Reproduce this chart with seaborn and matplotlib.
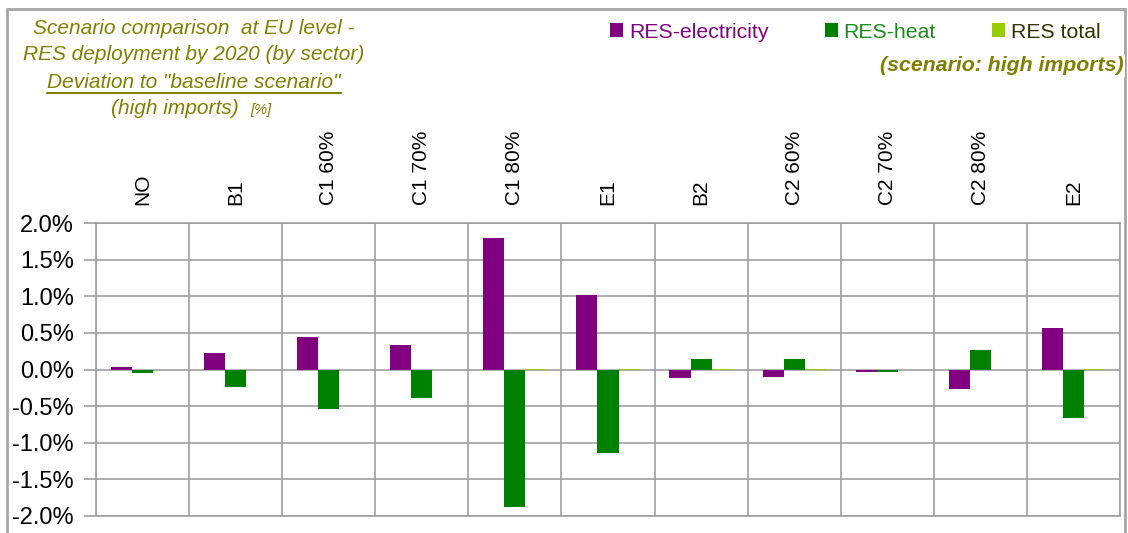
import numpy as np
import pandas as pd
import matplotlib
matplotlib.use("Agg")
import matplotlib.pyplot as plt
from matplotlib.patches import Rectangle
from matplotlib.lines import Line2D
from matplotlib.ticker import PercentFormatter
import seaborn as sns

# Deviation of RES deployment by 2020 from the baseline scenario, in percent
scenarios = ["NO", "B1", "C1 60%", "C1 70%", "C1 80%", "E1",
             "B2", "C2 60%", "C2 70%", "C2 80%", "E2"]
res_electricity = [0.03, 0.23, 0.44, 0.34, 1.79, 1.02, -0.12, -0.10, -0.04, -0.27, 0.57]
res_heat = [-0.05, -0.24, -0.54, -0.39, -1.88, -1.14, 0.14, 0.14, -0.04, 0.27, -0.66]
res_total = [0.0, 0.0, 0.0, 0.0, 0.01, 0.01, 0.01, 0.01, 0.0, 0.0, 0.01]
series_names = ["RES-electricity", "RES-heat", "RES total"]
series_colors = ["#800080", "#008000", "#99CC00"]
legend_text_colors = ["#800080", "#1A8C1A", "#333300"]
y_ticks = [-2.0, -1.5, -1.0, -0.5, 0.0, 0.5, 1.0, 1.5, 2.0]

df = pd.DataFrame({
    "scenario": scenarios * 3,
    "series": sum([[n] * len(scenarios) for n in series_names], []),
    "value": res_electricity + res_heat + res_total,
})

sns.set_style("white")
plt.rcParams["font.family"] = ["Liberation Sans", "DejaVu Sans"]
plt.rcParams["axes.unicode_minus"] = False

W, H = 1128, 533
fig = plt.figure(figsize=(W / 100, H / 100), dpi=100)
fig.patch.set_facecolor("white")

def fx(px):
    return px / W

def fy(py):
    return 1 - py / H

left, right, top, bottom = 96, 1120, 223, 516
ax = fig.add_axes([fx(left), fy(bottom), fx(right - left), (bottom - top) / H])

sns.barplot(data=df, x="scenario", y="value", hue="series", order=scenarios,
            hue_order=series_names, palette=series_colors, width=0.68,
            saturation=1, errorbar=None, linewidth=0, legend=False, ax=ax)

grid_col = "#A0A0A0"
ax.set_ylim(-2.0, 2.0)
ax.set_xlim(-0.5, len(scenarios) - 0.5)
ax.set_yticks(y_ticks)
ax.yaxis.set_major_formatter(PercentFormatter(xmax=100, decimals=1))
ax.set_xticks(np.arange(-0.5, len(scenarios)), minor=True)
ax.grid(axis="y", which="major", color=grid_col, linewidth=1.2)
ax.grid(axis="x", which="minor", color=grid_col, linewidth=1.2)
ax.grid(axis="x", which="major", visible=False)
ax.set_axisbelow(True)
for s in ax.spines.values():
    s.set_color(grid_col)
    s.set_linewidth(1.2)

ax.xaxis.tick_top()
ax.tick_params(axis="x", which="major", length=0, pad=13, labelsize=15,
               labelrotation=90, labelcolor="black")
ax.tick_params(axis="x", which="minor", length=0)
ax.tick_params(axis="y", which="major", direction="out", length=9, width=1.2,
               color=grid_col, pad=7, labelsize=17, labelcolor="black", left=True)
ax.set_xlabel("")
ax.set_ylabel("")

# outer chart frame
fig.add_artist(Rectangle((fx(7), fy(545)), fx(1125 - 7), (545 - 9) / H,
                         transform=fig.transFigure, fill=False,
                         edgecolor="#A6A6A6", linewidth=2, zorder=0))

# title block
olive = "#808000"
cx = fx(194)
title_size = 15
fig.text(cx, fy(29), "Scenario comparison  at EU level -", ha="center", va="center",
         fontsize=title_size, style="italic", color=olive)
fig.text(cx, fy(55), "RES deployment by 2020 (by sector)", ha="center", va="center",
         fontsize=title_size, style="italic", color=olive)
t3 = fig.text(cx, fy(82), 'Deviation to "baseline scenario"', ha="center", va="center",
              fontsize=title_size, style="italic", color=olive)
fig.text(fx(239), fy(109), "(high imports)", ha="right", va="center",
         fontsize=title_size, style="italic", color=olive)
fig.text(fx(250), fy(110), "[%]", ha="left", va="center",
         fontsize=10.5, style="italic", color=olive)

fig.canvas.draw()
bb = t3.get_window_extent(fig.canvas.get_renderer())
fig.add_artist(Line2D([bb.x0 / W, bb.x1 / W], [fy(93), fy(93)],
                      transform=fig.transFigure, color=olive, linewidth=1.5))

# legend
handles = [Rectangle((0, 0), 1, 1, facecolor=c, edgecolor="none") for c in series_colors]
leg = fig.legend(handles, series_names, loc="center left",
                 bbox_to_anchor=(fx(610), fy(32)), ncol=3, frameon=False,
                 fontsize=15.3, handlelength=0.62, handleheight=0.62,
                 handletextpad=0.28, columnspacing=2.63, borderpad=0, borderaxespad=0)
for txt, c in zip(leg.get_texts(), legend_text_colors):
    txt.set_color(c)

fig.text(fx(1124), fy(66), "(scenario: high imports)", ha="right", va="center",
         fontsize=15.3, style="italic", weight="bold", color=olive,
         bbox=dict(facecolor="white", edgecolor="none", pad=1))

fig.savefig("out.png", dpi=100, facecolor="white")
